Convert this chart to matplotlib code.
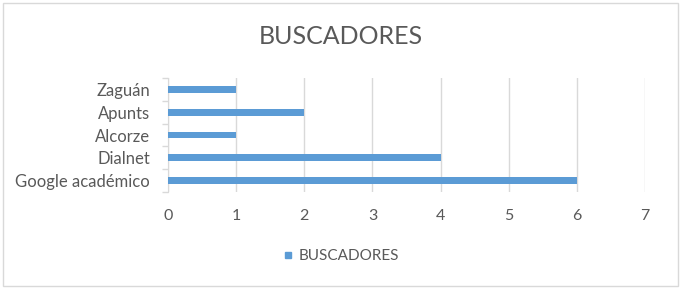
import numpy as np
import matplotlib as mpl
mpl.rcParams['font.family'] = ['Lato', 'DejaVu Sans']
import matplotlib.pyplot as plt
from matplotlib.lines import Line2D
from matplotlib.patches import Rectangle

# data (bottom to top)
categorias = ['Google académico', 'Dialnet', 'Alcorze', 'Apunts', 'Zaguán']
valores = [6, 4, 1, 2, 1]
xticks = [0, 1, 2, 3, 4, 5, 6, 7]

azul = '#5b9bd5'
gris = '#595959'
grid = '#d9d9d9'

fig = plt.figure(figsize=(6.82, 2.90), dpi=100, facecolor='w')
# chart border
fig.patches.append(Rectangle((3/682, 4/290), 675/682, 283/290, transform=fig.transFigure,
                             fill=False, edgecolor='#d9d9d9', lw=1.0))

ax = fig.add_axes([168/682, 1-192/290, 477/682, 114/290])
y = np.arange(len(categorias))
ax.barh(y, valores, height=0.3, color=azul, zorder=3)

ax.set_xlim(0, 7)
ax.set_ylim(-0.5, len(categorias)-0.5)
ax.set_xticks(xticks)
ax.set_xticklabels([str(t) for t in xticks], fontsize=11.5, color=gris)
ax.set_yticks(y)
ax.set_yticklabels(categorias, fontsize=12, color=gris)
ax.set_yticks(np.arange(-0.5, len(categorias), 1.0), minor=True)
ax.tick_params(axis='y', which='major', length=0, pad=13)
ax.tick_params(axis='y', which='minor', length=4, color=grid, width=1)
ax.tick_params(axis='x', which='major', length=0, pad=12)
ax.grid(axis='x', color=grid, lw=1, zorder=0)
for s in ['top', 'right', 'bottom']:
    ax.spines[s].set_visible(False)
ax.spines['left'].set_color(grid)

fig.text(0.5, 1-37/290, 'BUSCADORES', ha='center', va='center', fontsize=18, color=gris)

h = Line2D([], [], marker='s', color=azul, linestyle='none', markersize=5, label='BUSCADORES')
fig.legend(handles=[h], loc='center', bbox_to_anchor=(340/682, 1-256/290), frameon=False,
           fontsize=11, labelcolor=gris, handletextpad=0.2, handlelength=1.0)

plt.savefig('out.png', dpi=100)
